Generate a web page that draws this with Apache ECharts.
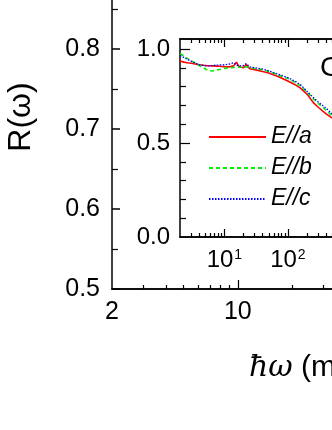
<!DOCTYPE html>
<html>
<head>
<meta charset="utf-8">
<script src="https://cdn.jsdelivr.net/npm/echarts@6/dist/echarts.min.js"></script>
<style>
  html, body { margin: 0; padding: 0; background: #fff; }
  #chart { width: 332px; height: 430px; }
</style>
</head>
<body>
<div id="chart"></div>
<script>
// inset: reflectivity vs photon energy (meV)
var energy = [2, 2.3, 2.6, 3, 3.5, 4, 4.7, 5.5, 6.5, 7.5, 9, 10, 12, 14, 15.5, 17, 20, 22, 25, 30, 40, 50, 70, 100, 130, 160, 200, 250, 300, 400, 500];
var reflA = [0.936, 0.93, 0.927, 0.924, 0.92, 0.916, 0.913, 0.911, 0.91, 0.909, 0.907, 0.906, 0.905, 0.91, 0.93, 0.905, 0.9, 0.918, 0.895, 0.89, 0.88, 0.872, 0.853, 0.83, 0.81, 0.79, 0.76, 0.716, 0.69, 0.655, 0.632];
var reflB = [0.975, 0.965, 0.95, 0.936, 0.925, 0.912, 0.9, 0.885, 0.883, 0.888, 0.893, 0.897, 0.9, 0.902, 0.905, 0.903, 0.903, 0.905, 0.9, 0.896, 0.89, 0.88, 0.862, 0.843, 0.823, 0.803, 0.77, 0.735, 0.71, 0.675, 0.642];
var reflC = [0.965, 0.955, 0.945, 0.935, 0.925, 0.916, 0.912, 0.91, 0.912, 0.914, 0.915, 0.916, 0.92, 0.927, 0.915, 0.91, 0.912, 0.922, 0.905, 0.9, 0.893, 0.884, 0.866, 0.848, 0.828, 0.808, 0.775, 0.743, 0.718, 0.685, 0.653];
var seriesNames = ['E//a', 'E//b', 'E//c'];

// tick positions
var mainXLabels = [2, 10, 100];
var mainXMajor = [10, 100];
var mainXMinor = [3, 4, 5, 6, 7, 8, 9, 20, 30, 40, 50, 60, 70, 80, 90];
var insetXMajor = [10, 100, 1000, 10000];
var insetXMinor = [3, 4, 5, 6, 7, 8, 9, 20, 30, 40, 50, 60, 70, 80, 90, 200, 300, 400, 500, 600, 700, 800, 900, 2000, 3000, 4000, 5000, 6000, 7000, 8000, 9000];
var insetYLabels = [0, 0.5, 1.0];
var insetYMajor = [0.5, 1.0];
var insetYMinor = [0.1, 0.2, 0.3, 0.4, 0.6, 0.7, 0.8, 0.9];

var FONT = 'Liberation Sans';
var black = '#000';

function pairs(ys) {
  return energy.map(function (e, i) { return [e, ys[i]]; });
}

function logX(grid, pos, min, max, ticks, len, labels) {
  return {
    type: 'log', gridIndex: grid, position: pos, min: min, max: max,
    axisLine: { show: true, onZero: false, lineStyle: { color: black, width: 1.5 } },
    axisTick: { show: true, inside: true, length: len, customValues: ticks, lineStyle: { color: black, width: 1.2 } },
    axisLabel: labels ? labels : { show: false },
    splitLine: { show: false }
  };
}

var chart = echarts.init(document.getElementById('chart'));

var option = {
  animation: false,
  grid: [
    { left: 112, top: -31, width: 360, height: 320, outerBoundsMode: 'none', containLabel: false },
    { left: 180, top: 39, width: 254, height: 198, outerBoundsMode: 'none', containLabel: false }
  ],
  xAxis: [
    logX(0, 'bottom', 2, 200, mainXMajor, 9, {
      customValues: mainXLabels, margin: 11,
      color: black, fontFamily: FONT, fontSize: 25
    }),
    logX(0, 'bottom', 2, 200, mainXMinor, 4),
    logX(1, 'bottom', 2, 20000, insetXMajor, 8, {
      customValues: [10, 100, 1000],
      margin: 11,
      formatter: function (v) {
        return '10{s|' + Math.round(Math.log10(v)) + '}';
      },
      color: black, fontFamily: FONT, fontSize: 24,
      rich: { s: { fontSize: 14, fontFamily: FONT, color: black, verticalAlign: 'top', padding: [0, 0, 10, 1] } }
    }),
    logX(1, 'bottom', 2, 20000, insetXMinor, 4),
    logX(1, 'top', 2, 20000, insetXMajor, 8),
    logX(1, 'top', 2, 20000, insetXMinor, 4)
  ],
  yAxis: [
    {
      type: 'value', gridIndex: 0, position: 'left', min: 0.5, max: 0.9, interval: 0.1,
      axisLine: { show: true, onZero: false, lineStyle: { color: black, width: 1.5 } },
      axisTick: { inside: true, length: 8, lineStyle: { color: black, width: 1.5 } },
      minorTick: { show: true, splitNumber: 2, length: 6, lineStyle: { color: black, width: 1.2 } },
      axisLabel: { margin: 12, color: black, fontFamily: FONT, fontSize: 25, formatter: function (v) { return v.toFixed(1); } },
      splitLine: { show: false }
    },
    {
      type: 'value', gridIndex: 1, position: 'left', min: 0, max: 1.053,
      axisLine: { show: true, onZero: false, lineStyle: { color: black, width: 1.5 } },
      axisTick: { inside: true, length: 10, customValues: insetYMajor, lineStyle: { color: black, width: 1.2 } },
      axisLabel: { customValues: insetYLabels, margin: 10, color: black, fontFamily: FONT, fontSize: 24, formatter: function (v) { return v.toFixed(1); } },
      splitLine: { show: false }
    },
    {
      type: 'value', gridIndex: 1, position: 'left', min: 0, max: 1.053,
      axisLine: { show: false },
      axisTick: { inside: true, length: 6, customValues: insetYMinor, lineStyle: { color: black, width: 1.2 } },
      axisLabel: { show: false },
      splitLine: { show: false }
    }
  ],
  legend: {
    orient: 'vertical', left: 208, top: 125, padding: 0,
    itemWidth: 57, itemHeight: 14, itemGap: 7,
    data: seriesNames,
    itemStyle: { opacity: 0 },
    textStyle: { fontFamily: FONT, fontSize: 23, fontStyle: 'italic', color: black, lineHeight: 24 }
  },
  series: [
    { name: seriesNames[0], type: 'line', xAxisIndex: 2, yAxisIndex: 1, symbol: 'none', data: pairs(reflA),
      lineStyle: { color: '#ff0000', width: 1.6 }, itemStyle: { color: '#ff0000' } },
    { name: seriesNames[1], type: 'line', xAxisIndex: 2, yAxisIndex: 1, symbol: 'none', data: pairs(reflB),
      lineStyle: { color: '#00ee00', width: 1.6, type: [4, 3] }, itemStyle: { color: '#00ee00' } },
    { name: seriesNames[2], type: 'line', xAxisIndex: 2, yAxisIndex: 1, symbol: 'none', data: pairs(reflC),
      lineStyle: { color: '#0000ff', width: 1.3, type: [1.5, 1.5] }, itemStyle: { color: '#0000ff' } }
  ],
  graphic: [
    { type: 'text', x: 21, y: 117, rotation: Math.PI / 2,
      style: { text: 'R(ω)', font: '32px "Liberation Sans"', fill: black, textAlign: 'center', textVerticalAlign: 'middle' } },
    { type: 'text', x: 249, y: 368,
      style: { text: '{i|ħω} (meV)', fill: black, textVerticalAlign: 'middle',
        font: '30px "Liberation Sans"',
        rich: { i: { fontFamily: 'DejaVu Serif', fontStyle: 'italic', fontSize: 30 } } } },
    { type: 'text', x: 320, y: 68,
      style: { text: 'C', font: '28px "Liberation Sans"', fill: black, textVerticalAlign: 'middle' } }
  ]
};

chart.setOption(option);
</script>
</body>
</html>
